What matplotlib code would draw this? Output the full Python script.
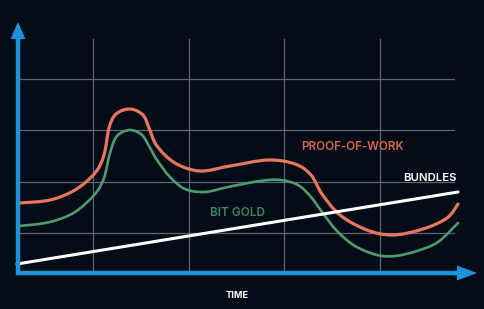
import matplotlib
matplotlib.use("Agg")
import matplotlib.pyplot as plt
from matplotlib.path import Path
from matplotlib.patches import PathPatch

# ---- data (x: time position, y: value above the time axis, read in picture rows) ----
pow_x = [20, 50, 75, 95, 104, 109, 116, 130, 143, 149, 157, 175, 200, 230, 268, 295, 311, 322,
         340, 367, 393, 423, 447, 458]
pow_py = [203, 200, 190, 173, 155, 128, 114, 109, 115, 128, 146, 163, 171, 166, 160, 164, 175, 194,
          215, 230, 235, 229, 218, 204]

gold_x = [20, 50, 75, 95, 104, 110, 117, 130, 142, 149, 157, 170, 185, 205, 228, 260, 280, 298,
          311, 322, 337, 355, 377, 395, 417, 438, 458]
gold_py = [226, 222, 212, 194, 178, 153, 136, 130, 135, 146, 160, 177, 189, 192, 187, 181, 180, 185,
           197, 212, 231, 246, 255, 256, 251, 242, 223]

bundles_x = [17, 458]
bundles_py = [264, 192]

BASE = 273
pow_y = [BASE - v for v in pow_py]
gold_y = [BASE - v for v in gold_py]
bundles_y = [BASE - v for v in bundles_py]

grid_x = [93, 189, 284, 380]
grid_y = [BASE - v for v in [79, 130, 182, 233]]

labels = {"PROOF-OF-WORK": (352, BASE - 147), "BUNDLES": (430, BASE - 178),
          "BIT GOLD": (238, BASE - 213), "TIME": (237, BASE - 295)}

# ---- style ----
BG = "#040c17"
BLUE = "#1f93da"
GRID = "#5c6672"
RED = "#e9755d"
GREEN = "#4f9b6d"


def smooth_path(xs, ys):
    """Cubic Bezier path through the given points (Catmull-Rom tangents)."""
    pts = list(zip(xs, ys))
    verts = [pts[0]]
    codes = [Path.MOVETO]
    n = len(pts)
    for i in range(n - 1):
        p0 = pts[i - 1] if i > 0 else pts[i]
        p1 = pts[i]
        p2 = pts[i + 1]
        p3 = pts[i + 2] if i + 2 < n else pts[i + 1]
        c1 = (p1[0] + (p2[0] - p0[0]) / 6.0, p1[1] + (p2[1] - p0[1]) / 6.0)
        c2 = (p2[0] - (p3[0] - p1[0]) / 6.0, p2[1] - (p3[1] - p1[1]) / 6.0)
        verts += [c1, c2, p2]
        codes += [Path.CURVE4] * 3
    return Path(verts, codes)


fig = plt.figure(figsize=(4.85, 3.09), dpi=100, facecolor=BG)
ax = fig.add_axes([0, 0, 1, 1])
ax.set_facecolor(BG)
ax.set_xlim(0, 485)
ax.set_ylim(BASE - 309, BASE)
ax.axis("off")

# grid
for gx in grid_x:
    ax.plot([gx, gx], [0, BASE - 39], color=GRID, lw=0.9, zorder=1)
for gy in grid_y:
    ax.plot([20, 454], [gy, gy], color=GRID, lw=0.9, zorder=1)

# curves
ax.add_patch(PathPatch(smooth_path(pow_x, pow_y), facecolor="none", edgecolor=RED, lw=2.3,
                       capstyle="round", joinstyle="round", zorder=3))
ax.add_patch(PathPatch(smooth_path(gold_x, gold_y), facecolor="none", edgecolor=GREEN, lw=1.9,
                       capstyle="round", joinstyle="round", zorder=3))
ax.plot(bundles_x, bundles_y, color="white", lw=2.2, solid_capstyle="round", zorder=4)

# axes arrows
ax.arrow(18, -2, 0, 253, width=4.5, head_width=15, head_length=17, length_includes_head=True,
         color=BLUE, lw=0, zorder=5)
ax.arrow(16, 0, 461, 0, width=4.5, head_width=15, head_length=20, length_includes_head=True,
         color=BLUE, lw=0, zorder=5)

fam = ["Inter", "DejaVu Sans"]
ax.text(*labels["PROOF-OF-WORK"], "PROOF-OF-WORK", color="#dc644e", fontsize=8.3, family=fam,
        weight="semibold", ha="center", va="center", zorder=6)
ax.text(*labels["BUNDLES"], "BUNDLES", color="white", fontsize=8.2, family=fam,
        weight="semibold", ha="center", va="center", zorder=6)
ax.text(*labels["BIT GOLD"], "BIT GOLD", color="#3f875c", fontsize=8.5, family=fam,
        weight="semibold", ha="center", va="center", zorder=6)
ax.text(*labels["TIME"], "TIME", color="white", fontsize=6.6, family=fam,
        weight="bold", ha="center", va="center", zorder=6)

fig.savefig("out.png", dpi=100, facecolor=BG)
